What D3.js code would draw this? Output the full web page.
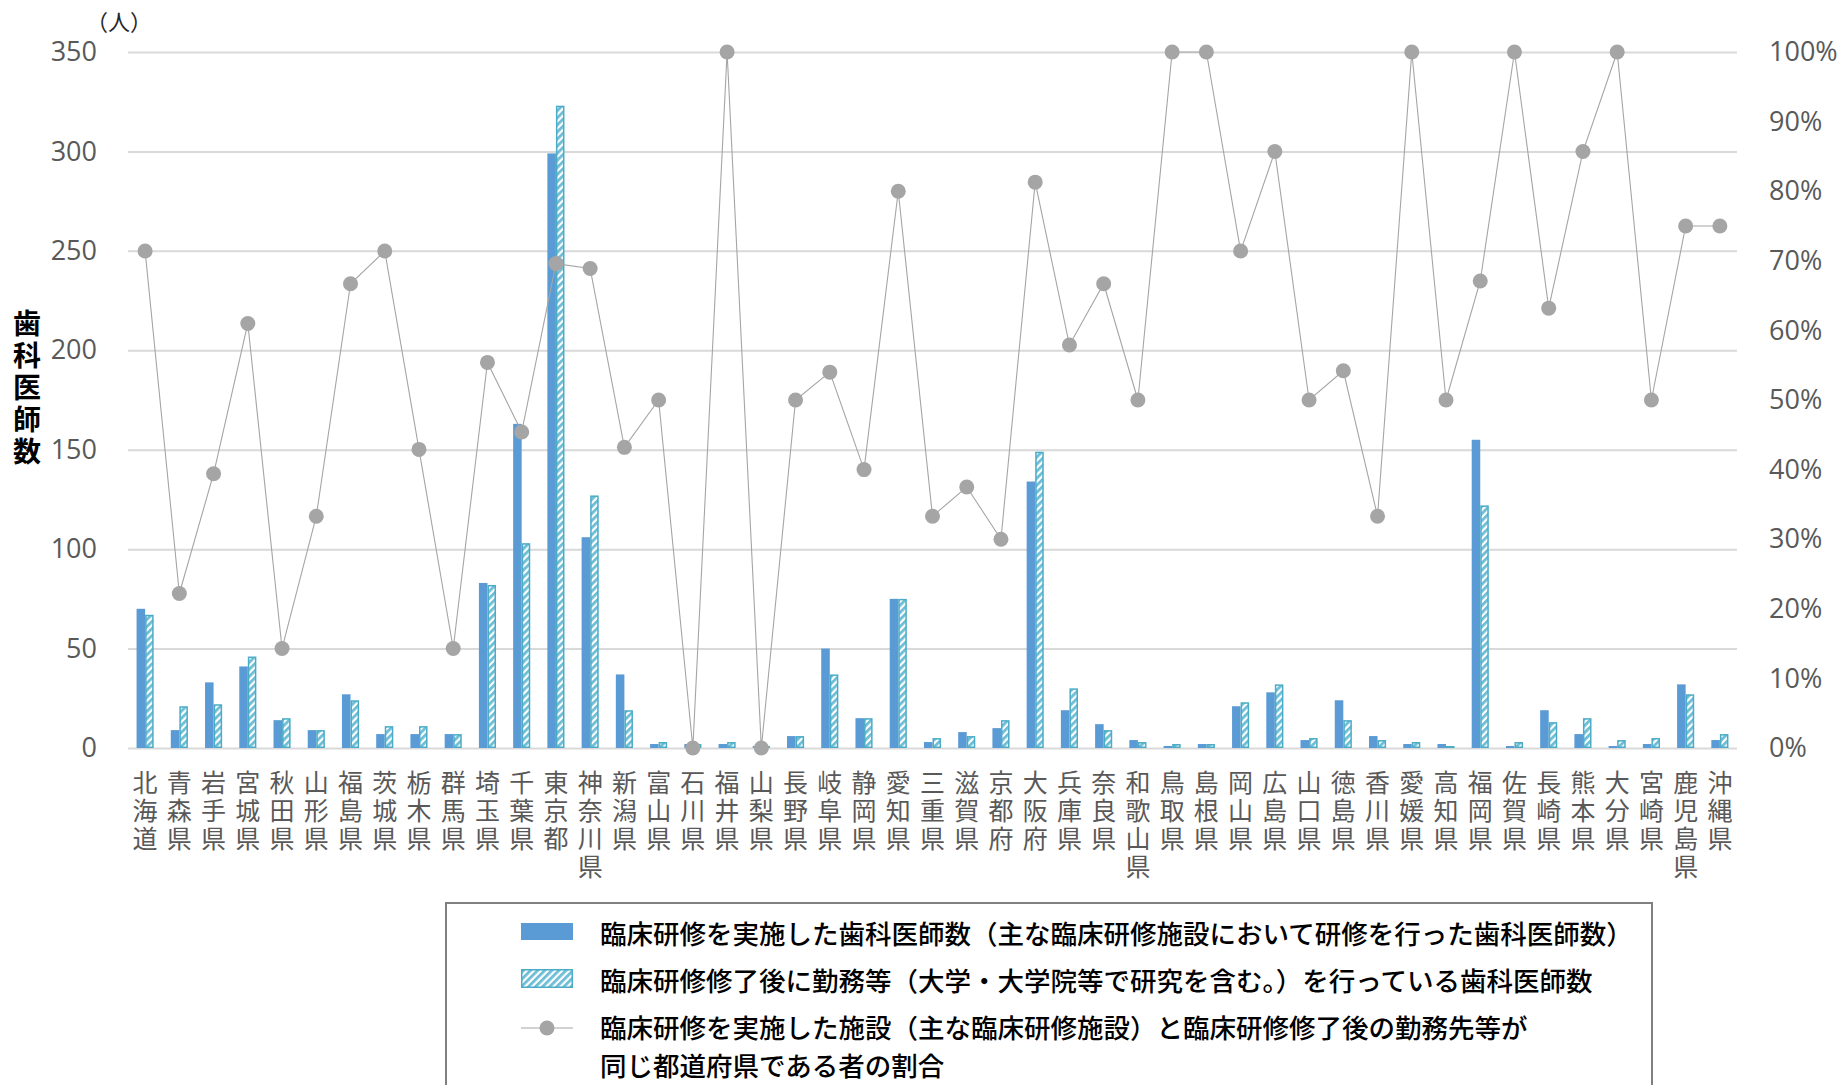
<!DOCTYPE html>
<html lang="ja">
<head>
<meta charset="utf-8">
<title>臨床研修を実施した歯科医師数と勤務先</title>
<script src="https://cdn.jsdelivr.net/npm/d3@7"></script>
<style>
  html, body { margin: 0; padding: 0; background: #fff; }
  svg { display: block; }
</style>
</head>
<body>
<svg id="chart" width="1843" height="1085"></svg>
<script>
// 都道府県
const prefectures = [
  "北海道","青森県","岩手県","宮城県","秋田県","山形県","福島県","茨城県","栃木県","群馬県",
  "埼玉県","千葉県","東京都","神奈川県","新潟県","富山県","石川県","福井県","山梨県","長野県",
  "岐阜県","静岡県","愛知県","三重県","滋賀県","京都府","大阪府","兵庫県","奈良県","和歌山県",
  "鳥取県","島根県","岡山県","広島県","山口県","徳島県","香川県","愛媛県","高知県","福岡県",
  "佐賀県","長崎県","熊本県","大分県","宮崎県","鹿児島県","沖縄県"
];
// 臨床研修を実施した歯科医師数（人）
const trainedCounts = [
  70, 9, 33, 41, 14, 9, 27, 7, 7, 7,
  83, 163, 299, 106, 37, 2, 2, 2, 1, 6,
  50, 15, 75, 3, 8, 10, 134, 19, 12, 4,
  1, 2, 21, 28, 4, 24, 6, 2, 2, 155,
  1, 19, 7, 1, 2, 32, 4
];
// 臨床研修修了後に勤務等を行っている歯科医師数（人）
const workingCounts = [
  67, 21, 22, 46, 15, 9, 24, 11, 11, 7,
  82, 103, 323, 127, 19, 3, 2, 3, 1, 6,
  37, 15, 75, 5, 6, 14, 149, 30, 9, 3,
  2, 2, 23, 32, 5, 14, 4, 3, 1, 122,
  3, 13, 15, 4, 5, 27, 7
];
// 研修施設と勤務先が同じ都道府県である者の割合（%）
const sameRatioPct = [
  71.4, 22.2, 39.4, 61.0, 14.3, 33.3, 66.7, 71.4, 42.9, 14.3,
  55.4, 45.4, 69.6, 68.9, 43.2, 50.0, 0, 100, 0, 50.0,
  54.0, 40.0, 80.0, 33.3, 37.5, 30.0, 81.3, 57.9, 66.7, 50.0,
  100, 100, 71.4, 85.7, 50.0, 54.2, 33.3, 100, 50.0, 67.1,
  100, 63.2, 85.7, 100, 50.0, 75.0, 75.0
];
const leftTicks = [0, 50, 100, 150, 200, 250, 300, 350];
const rightTicks = [0, 0.1, 0.2, 0.3, 0.4, 0.5, 0.6, 0.7, 0.8, 0.9, 1.0];
const seriesKeys = ["trained", "working"];
const legendLabels = [
  "臨床研修を実施した歯科医師数（主な臨床研修施設において研修を行った歯科医師数）",
  "臨床研修修了後に勤務等（大学・大学院等で研究を含む。）を行っている歯科医師数",
  ["臨床研修を実施した施設（主な臨床研修施設）と臨床研修修了後の勤務先等が", "同じ都道府県である者の割合"]
];

const rows = prefectures.map((p, i) => ({
  pref: p, trained: trainedCounts[i], working: workingCounts[i], ratio: sameRatioPct[i] / 100
}));

const svg = d3.select("#chart");
const plot = { left: 128, right: 1737, top: 52, bottom: 748 };

const JP = "'Noto Sans CJK JP', 'Noto Sans', sans-serif";
const NUM = "'Open Sans', 'Noto Sans', sans-serif";
const BLUE = "#5B9BD5";
const TEAL = "#4BACC6";
const GRID = "#D9D9D9";
const LINE = "#A5A5A5";
const TXT = "#595959";

// hatch pattern for the second series
const defs = svg.append("defs");
const pat = defs.append("pattern")
  .attr("id", "hatch")
  .attr("patternUnits", "userSpaceOnUse")
  .attr("width", 5).attr("height", 5)
  .attr("patternTransform", "rotate(45)");
pat.append("rect").attr("width", 5).attr("height", 5).attr("fill", "#fff");
pat.append("rect").attr("x", 0).attr("width", 2.8).attr("height", 5).attr("fill", "#6DBDD7");

const x = d3.scaleBand().domain(prefectures).range([plot.left, plot.right]).padding(0);
const bw = x.bandwidth();
const x1 = d3.scaleBand().domain(seriesKeys).range([bw * 0.25, bw * 0.75]).padding(0);
const yL = d3.scaleLinear().domain([0, 350]).range([plot.bottom, plot.top]);
const yR = d3.scaleLinear().domain([0, 1]).range([plot.bottom, plot.top]);

// gridlines + left axis
const gLeft = svg.append("g")
  .attr("transform", `translate(${plot.left},0)`)
  .call(d3.axisLeft(yL).tickValues(leftTicks).tickSize(-(plot.right - plot.left)).tickPadding(31));
gLeft.select(".domain").remove();
gLeft.selectAll(".tick line").attr("stroke", GRID).attr("stroke-width", 2);
gLeft.selectAll(".tick text")
  .attr("font-family", NUM).attr("font-size", 27).attr("fill", TXT);

// right axis
const gRight = svg.append("g")
  .attr("transform", `translate(${plot.right},0)`)
  .call(d3.axisRight(yR).tickValues(rightTicks).tickFormat(d3.format(".0%")).tickSize(0).tickPadding(32));
gRight.select(".domain").remove();
gRight.selectAll(".tick text")
  .attr("font-family", NUM).attr("font-size", 27).attr("fill", TXT);

// category axis, names set vertically
const gBottom = svg.append("g")
  .attr("transform", `translate(0,${plot.bottom})`)
  .call(d3.axisBottom(x).tickSize(0).tickFormat(""));
gBottom.select(".domain").remove();
gBottom.selectAll(".tick").append("text")
  .attr("x", 0).attr("y", 22)
  .attr("font-family", JP).attr("font-size", 25).attr("fill", TXT)
  .style("writing-mode", "vertical-rl")
  .style("letter-spacing", "3px")
  .attr("text-anchor", "start")
  .text(d => d);

// bars
const groups = svg.append("g").selectAll("g")
  .data(rows).join("g")
  .attr("transform", d => `translate(${x(d.pref)},0)`);

groups.append("rect")
  .attr("x", x1("trained"))
  .attr("width", x1.bandwidth())
  .attr("y", d => yL(d.trained))
  .attr("height", d => yL(0) - yL(d.trained))
  .attr("fill", BLUE);

groups.append("rect")
  .attr("x", x1("working") + 0.75)
  .attr("width", x1.bandwidth() - 1.5)
  .attr("y", d => yL(d.working) + 0.75)
  .attr("height", d => Math.max(0, yL(0) - yL(d.working) - 1.5))
  .attr("fill", "url(#hatch)")
  .attr("stroke", TEAL)
  .attr("stroke-width", 1.5);

// ratio line with markers
const cx = d => x(d.pref) + bw / 2;
svg.append("path")
  .datum(rows)
  .attr("fill", "none")
  .attr("stroke", LINE)
  .attr("stroke-width", 1.1)
  .attr("d", d3.line().x(cx).y(d => yR(d.ratio)));

svg.append("g").selectAll("circle")
  .data(rows).join("circle")
  .attr("cx", cx)
  .attr("cy", d => yR(d.ratio))
  .attr("r", 7.5)
  .attr("fill", LINE);

// axis titles
svg.append("text")
  .attr("x", 119).attr("y", 30)
  .attr("text-anchor", "middle")
  .attr("font-family", JP).attr("font-size", 22).attr("fill", "#262626")
  .text("（人）");

svg.append("text")
  .attr("x", 27).attr("y", 309)
  .attr("font-family", JP).attr("font-size", 28).attr("font-weight", 700)
  .attr("fill", "#000")
  .style("writing-mode", "vertical-rl")
  .style("letter-spacing", "4px")
  .attr("text-anchor", "start")
  .text("歯科医師数");

// legend
const lg = svg.append("g");
lg.append("rect")
  .attr("x", 446).attr("y", 903).attr("width", 1206).attr("height", 220)
  .attr("fill", "#fff").attr("stroke", "#808080").attr("stroke-width", 2);

lg.append("rect").attr("x", 521).attr("y", 923).attr("width", 52).attr("height", 17).attr("fill", BLUE);
lg.append("rect").attr("x", 521.75).attr("y", 969.75).attr("width", 50.5).attr("height", 17.5)
  .attr("fill", "url(#hatch)").attr("stroke", TEAL).attr("stroke-width", 1.5);
lg.append("line").attr("x1", 521).attr("x2", 573).attr("y1", 1028).attr("y2", 1028)
  .attr("stroke", LINE).attr("stroke-width", 1.1);
lg.append("circle").attr("cx", 547).attr("cy", 1028).attr("r", 7.5).attr("fill", LINE);

const legendText = (txt, y) => lg.append("text")
  .attr("x", 600).attr("y", y)
  .attr("dominant-baseline", "central")
  .attr("font-family", JP).attr("font-size", 26.5).attr("font-weight", 500).attr("fill", "#000")
  .text(txt);
legendText(legendLabels[0], 932);
legendText(legendLabels[1], 979);
legendText(legendLabels[2][0], 1026);
legendText(legendLabels[2][1], 1064);
</script>
</body>
</html>
